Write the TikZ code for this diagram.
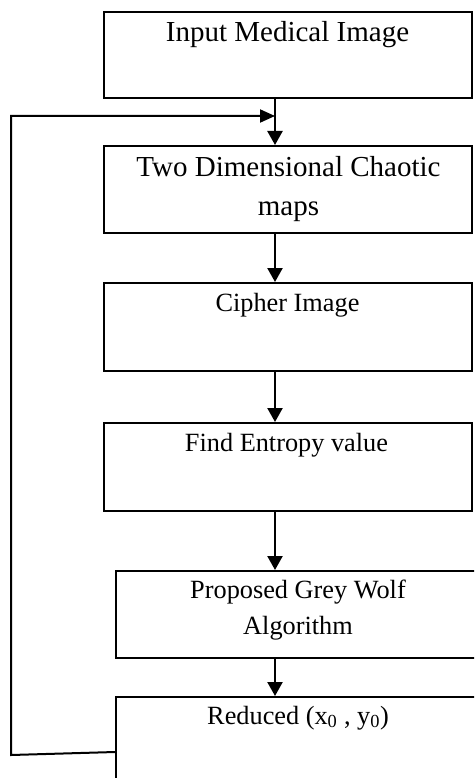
\documentclass[tikz,border=0pt]{standalone}
\usepackage{fontspec}
\setmainfont{Liberation Serif}
\usetikzlibrary{positioning}
\usetikzlibrary{arrows.meta}

\begin{document}
\begin{tikzpicture}[x=1pt, y=1pt,
    caja/.style={draw, line width=2pt, minimum width=368pt, inner sep=0pt},
    texto/.style={anchor=base, align=center, inner sep=0pt},
    grande/.style={font=\fontsize{29}{39}\selectfont},
    chico/.style={font=\fontsize{26.3}{36}\selectfont},
    flecha/.style={line width=2.3pt, -{Triangle[length=14pt, width=15pt]}},
    retorno/.style={line width=2pt, -{Triangle[length=15pt, width=13pt]}}]
              \useasboundingbox (0,0) rectangle (474,-778);
              \clip (0,0) rectangle (474,-778);

              % Cajas
              \node[caja, minimum height=86pt] (b1) at (288,-55) {};
              \node[caja, minimum height=87pt] (b2) at (288,-189.5) {};
              \node[caja, minimum height=88pt] (b3) at (288,-327) {};
              \node[caja, minimum height=88pt] (b4) at (288,-467) {};
              \node[caja, minimum width=364pt, minimum height=87pt] (b5) at (298,-614.5) {};
              \node[caja, minimum width=364pt, minimum height=110pt] (b6) at (298,-752) {};

              % Textos (base = ultima linea)
              \node[texto, grande] (t1) at (287.5,-42) {Input Medical Image};
              \node[texto, grande] (t2) at (288.5,-215) {Two Dimensional Chaotic\\maps};
              \node[texto, chico] (t3) at (287.5,-311) {Cipher Image};
              \node[texto, chico] (t4) at (286.5,-451) {Find Entropy value};
              \node[texto, chico] (t5) at (298,-634) {Proposed Grey Wolf\\Algorithm};
              \node[texto, chico] (t6) at (298,-724) {Reduced (x\textsubscript{0} , y\textsubscript{0})};

              % Flechas
              \coordinate (col) at (275,0);
              \coordinate (esq1) at (11,-116);
              \coordinate (esq2) at (11,-755);
              \draw[flecha] (b1.south -| col) -- (b2.north -| col);
              \draw[flecha] (b2.south -| col) -- (b3.north -| col);
              \draw[flecha] (b3.south -| col) -- (b4.north -| col);
              \draw[flecha] (b4.south -| col) -- (b5.north -| col);
              \draw[flecha] (b5.south -| col) -- (b6.north -| col);
              \draw[retorno] (b6.west) -- (esq2) -- (esq1) -- (esq1 -| col);
            \end{tikzpicture}
\end{document}
